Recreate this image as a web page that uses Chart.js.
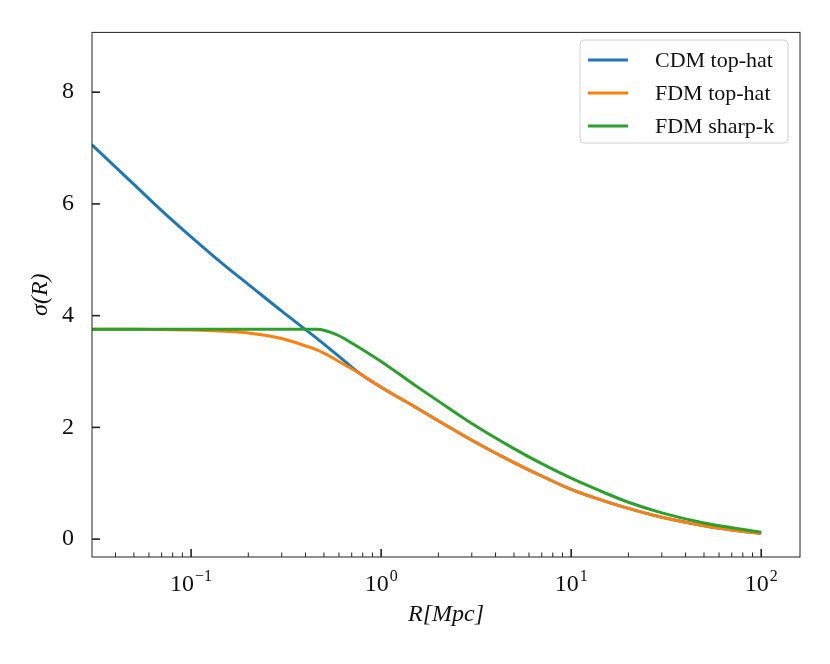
<!DOCTYPE html>
<html>
<head>
<meta charset="utf-8">
<script src="https://cdn.jsdelivr.net/npm/chart.js@4"></script>
<style>
  body { margin: 0; background: #fff; }
  #wrap { width: 830px; height: 664px; }
</style>
</head>
<body>
<div id="wrap"><canvas id="sigmaChart"></canvas></div>
<script>
// Radii (Mpc) and sigma(R)
const radii = [0.03, 0.05, 0.07, 0.1, 0.15, 0.2, 0.3, 0.4, 0.45, 0.5, 0.6, 0.7, 0.8, 1,
  1.5, 2, 3, 5, 7, 10, 15, 20, 30, 50, 70, 100];
const cdmTopHat = [7.06, 6.35, 5.88, 5.41, 4.90, 4.56, 4.08, 3.75, 3.615, 3.49, 3.27, 3.08, 2.93, 2.72,
  2.37, 2.12, 1.77, 1.37, 1.13, 0.89, 0.68, 0.55, 0.39, 0.24, 0.165, 0.10];
const fdmTopHat = [3.757, 3.755, 3.75, 3.745, 3.72, 3.69, 3.59, 3.46, 3.40, 3.33, 3.18, 3.05, 2.93, 2.72,
  2.37, 2.12, 1.77, 1.37, 1.13, 0.89, 0.68, 0.55, 0.39, 0.24, 0.165, 0.10];
const fdmSharpK = [3.757, 3.757, 3.757, 3.757, 3.757, 3.757, 3.757, 3.757, 3.755, 3.74, 3.64, 3.51, 3.39, 3.18,
  2.76, 2.47, 2.07, 1.62, 1.35, 1.09, 0.83, 0.66, 0.47, 0.29, 0.205, 0.125];

const seriesLabels = ["CDM top-hat", "FDM top-hat", "FDM sharp-k"];
const seriesColors = ["#1f77b4", "#ff7f0e", "#2ca02c"];

const xMajorTicks = [0.1, 1, 10, 100];
const xTickExps = ["\u22121", "0", "1", "2"];
const yTicks = [0, 2, 4, 6, 8];

const FONT = "'Liberation Serif', 'DejaVu Serif', serif";

function toPoints(ys) {
  return radii.map((r, i) => ({ x: r, y: ys[i] }));
}

// inward ticks, frame, power-of-ten labels and legend box (matplotlib style)
const axesPlugin = {
  id: "axesStyle",
  afterDraw(chart) {
    const c = chart.ctx;
    const a = chart.chartArea;
    const xs = chart.scales.x;
    const ys = chart.scales.y;
    c.save();
    c.strokeStyle = "#222";
    c.lineWidth = 1;
    c.strokeRect(a.left, a.top, a.right - a.left, a.bottom - a.top);

    // x ticks
    for (let e = -2; e <= 2; e++) {
      for (let m = 1; m <= 9; m++) {
        const v = m * Math.pow(10, e);
        if (v < xs.min || v > xs.max) continue;
        const px = xs.getPixelForValue(v);
        const major = m === 1;
        c.lineWidth = major ? 1.6 : 1;
        c.beginPath();
        c.moveTo(px, a.bottom);
        c.lineTo(px, a.bottom - (major ? 8 : 4.5));
        c.stroke();
      }
    }
    // y ticks
    yTicks.forEach((v) => {
      const py = ys.getPixelForValue(v);
      c.lineWidth = 1.6;
      c.beginPath();
      c.moveTo(a.left, py);
      c.lineTo(a.left + 8, py);
      c.stroke();
    });

    // x tick labels as 10^n
    c.fillStyle = "#111";
    c.textBaseline = "alphabetic";
    xMajorTicks.forEach((v, i) => {
      const px = xs.getPixelForValue(v);
      c.font = "24px " + FONT;
      const wBase = c.measureText("10").width;
      c.font = "16px " + FONT;
      const wExp = c.measureText(xTickExps[i]).width;
      const x0 = px - (wBase + wExp + 1) / 2;
      c.font = "24px " + FONT;
      c.fillText("10", x0, a.bottom + 34);
      c.font = "16px " + FONT;
      c.fillText(xTickExps[i], x0 + wBase + 1, a.bottom + 24);
    });

    // legend
    const lx = 580, ly = 40, lw = 208, lh = 103;
    c.fillStyle = "rgba(255,255,255,0.8)";
    c.strokeStyle = "#d0d0d0";
    c.lineWidth = 1;
    c.beginPath();
    c.roundRect(lx, ly, lw, lh, 4);
    c.fill();
    c.stroke();
    c.font = "22px " + FONT;
    c.textBaseline = "middle";
    chart.data.datasets.forEach((ds, i) => {
      const y = ly + 20 + i * 33;
      c.strokeStyle = ds.borderColor;
      c.lineWidth = 3;
      c.beginPath();
      c.moveTo(lx + 8, y);
      c.lineTo(lx + 48, y);
      c.stroke();
      c.fillStyle = "#111";
      c.fillText(ds.label, lx + 75, y + 1);
    });
    c.restore();
  },
};

const ctx = document.getElementById("sigmaChart").getContext("2d");
const chart = new Chart(ctx, {
  type: "line",
  data: {
    datasets: [
      {
        label: seriesLabels[0],
        data: toPoints(cdmTopHat),
        borderColor: seriesColors[0],
        order: 3,
      },
      {
        label: seriesLabels[1],
        data: toPoints(fdmTopHat),
        borderColor: seriesColors[1],
        order: 2,
      },
      {
        label: seriesLabels[2],
        data: toPoints(fdmSharpK),
        borderColor: seriesColors[2],
        order: 1,
      },
    ],
  },
  options: {
    responsive: true,
    maintainAspectRatio: false,
    animation: false,
    devicePixelRatio: 1,
    layout: { padding: { top: 30, right: 30, left: 0, bottom: 0 } },
    elements: {
      point: { radius: 0 },
      line: { borderWidth: 3, cubicInterpolationMode: "monotone", fill: false },
    },
    plugins: {
      legend: { display: false },
      tooltip: { enabled: false },
    },
    scales: {
      x: {
        type: "logarithmic",
        min: 0.0301,
        max: 160,
        afterBuildTicks(scale) {
          scale.ticks = xMajorTicks.map((v) => ({ value: v }));
        },
        afterFit(scale) {
          scale.height = 107;
        },
        grid: { display: false, drawTicks: false },
        border: { display: false },
        ticks: {
          autoSkip: false,
          maxRotation: 0,
          // labels drawn by the plugin with superscripts
          callback: () => "",
        },
        title: {
          display: true,
          text: "R[Mpc]",
          color: "#111",
          padding: { top: 0, bottom: 35 },
          font: { family: FONT, size: 24, style: "italic" },
        },
      },
      y: {
        min: -0.32,
        max: 9.07,
        afterBuildTicks(scale) {
          scale.ticks = yTicks.map((v) => ({ value: v }));
        },
        afterFit(scale) {
          scale.width = 92;
        },
        grid: { display: false, drawTicks: false },
        border: { display: false },
        ticks: {
          padding: 18,
          color: "#111",
          font: { family: FONT, size: 24 },
        },
        title: {
          display: true,
          text: "\u03C3(R)",
          color: "#111",
          padding: { top: 26, bottom: 0 },
          font: { family: FONT, size: 24, style: "italic" },
        },
      },
    },
  },
  plugins: [axesPlugin],
});
</script>
</body>
</html>
